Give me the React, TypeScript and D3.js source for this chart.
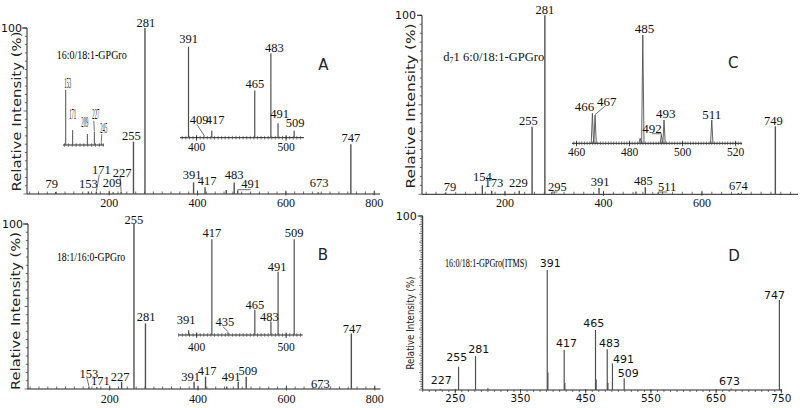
import React from "react";
import * as d3 from "d3";

const SERIF = "'Liberation Serif', 'Times New Roman', serif";
const SANS = "'DejaVu Sans', 'Liberation Sans', sans-serif";

// ---------------- data (m/z and relative intensity, %) ----------------
const aMz = [79, 153, 171, 209, 227, 255, 281, 391, 417, 465, 483, 491, 673, 747];
const aInt = [1.2, 1.5, 1.5, 1, 1.5, 31.5, 100, 7, 4, 2.4, 7, 2, 1, 30];
const a1Mz = [153, 171, 209, 227, 245];
const a1Int = [100, 27, 20, 24, 5];
const a2Mz = [391, 409, 417, 465, 483, 491, 509];
const a2Int = [100, 1, 7.7, 52, 92.7, 16, 7.7];

const bMz = [153, 171, 227, 255, 281, 391, 417, 465, 491, 509, 673, 747];
const bInt = [1.5, 1, 4.4, 100, 39.8, 4.4, 7.5, 1.5, 4.4, 7.5, 0.8, 33.7];
const b2Mz = [391, 417, 435, 465, 483, 491, 509];
const b2Int = [5, 100, 3, 26.5, 14, 66, 100];

const cMz = [79, 154, 173, 229, 255, 281, 295, 391, 466, 485, 511, 674, 749];
const cInt = [0.8, 5, 2, 2, 37.8, 100, 1, 3.5, 1.5, 4, 1, 0.8, 38];
const c2Mz = [466, 467, 484, 485, 492, 493, 511];
const c2Int = [27.7, 26, 4.6, 100, 7.7, 21.5, 21.5];

const dMz = [227, 255, 281, 300, 391, 392, 417, 418, 465, 466, 483, 484, 491, 509, 673, 747];
const dInt = [0.6, 13.4, 19.5, 1, 69, 10, 23, 4, 34.5, 6, 23.4, 4, 15.3, 6.7, 0.8, 51.7];

const abTicks = [200, 400, 600, 800];
const cTicks = [200, 400, 600];
const dTicks = [250, 350, 450, 550, 650, 750];
const insetABTicks = [400, 500];
const insetCTicks = [460, 480, 500, 520];
const yTopTick = [100];

const titleA = "16:0/18:1-GPGro";
const titleB = "18:1/16:0-GPGro";
const titleC = ["d", "7", "1 6:0/18:1-GPGro"];
const titleD = "16:0/18:1-GPGro(ITMS)";
const yLabel = "Relative Intensity (%)";

// ---------------- label layout (offsets from peak top, px) ----------------
type Lab = [number, number, number, string?];
const aLab: Lab[] = [[79, -4, -8], [153, 0, -7.5], [171, 5, -21.5, "line"], [209, -1, -9], [227, 1, -19, "line"],
  [255, -2, -6], [281, 1, -5], [391, -1.5, -7], [417, 2, -6], [483, 0, -7], [491, 13, -6.5, "elbow"], [673, 1, -9], [747, 0, -6]];
const a1Lab: Lab[] = [[153, 2, -7], [171, 0, -16], [209, -2.5, -12], [227, 1.5, -17, "line"], [245, 2.5, -14, "line"]];
const a2Lab: Lab[] = [[391, 0, -7.5], [409, -5.6, -16.8, "line"], [417, 3.3, -10.7], [465, 0, -6], [483, 3.5, -5], [491, 1.5, -9], [509, 1, -8]];
const bLab: Lab[] = [[153, 0, -13, "line"], [171, 3.6, -6], [227, -1.5, -5], [255, 0, -4], [281, 0.7, -6], [391, -3.5, -4.5],
  [417, 1.5, -5.5], [491, -7, -4.7], [509, 1.7, -5.6], [673, 1.7, -4], [747, 0.7, -4]];
const b2Lab: Lab[] = [[391, -2.4, -10], [417, 0, -6], [435, -3, -10, "line"], [465, 0, -5], [483, -1.5, -5], [491, -1, -5], [509, 0, -6]];
const cLab: Lab[] = [[79, 4.6, -6], [154, 0, -8.6], [173, 2.3, -7.7], [229, -1, -7.7], [255, -3.8, -5.6], [281, 0, -5.3],
  [295, 5.7, -6, "elbow"], [391, 1, -6], [485, -2, -6], [511, 9, -6, "elbow"], [674, 0, -6.5], [749, -2, -5]];
const c2Lab: Lab[] = [[466, -8, -6.6], [467, 11.6, -13.3, "line"], [485, 1.7, -6.7], [492, -9.3, -6.7, "elbow"], [493, 1.7, -6.7], [511, 0, -6]];
const dLab: Lab[] = [[227, 1, -8], [255, -1.7, -9], [281, 3.3, -7], [391, 3, -6.7], [417, 2.3, -6], [465, -1.7, -6.7],
  [483, 2.3, -5.3], [491, 11, -4], [509, 4, -5], [673, -1.6, -7], [747, -5, -5]];

// ---------------- scales ----------------
const xA = d3.scaleLinear().domain([14, 813]).range([27, 380]);
const yA = d3.scaleLinear().domain([0, 100]).range([194, 28]);
const xA1 = d3.scaleLinear().domain([146, 252]).range([63, 104]);
const yA1 = d3.scaleLinear().domain([0, 100]).range([145, 90]);
const xA2 = d3.scaleLinear().domain([381.5, 520]).range([180, 304]);
const yA2 = d3.scaleLinear().domain([0, 100]).range([137.7, 46.7]);

const xB = d3.scaleLinear().domain([14, 813]).range([27.5, 380.5]);
const yB = d3.scaleLinear().domain([0, 100]).range([389, 224]);
const xB2 = d3.scaleLinear().domain([379.5, 518.5]).range([178.3, 302.7]);
const yB2 = d3.scaleLinear().domain([0, 100]).range([335, 239.3]);

const xC = d3.scaleLinear().domain([31.5, 795]).range([422, 798]);
const yC = d3.scaleLinear().domain([0, 100]).range([194.3, 15.3]);
const xC2 = d3.scaleLinear().domain([458.3, 522.4]).range([572, 742]);
const yC2 = d3.scaleLinear().domain([0, 100]).range([143.3, 35]);

const xD = d3.scaleLinear().domain([200, 751]).range([422.7, 782]);
const yD = d3.scaleLinear().domain([0, 100]).range([390, 216]);

const PEAK = "#505050";

function Peaks({ x, y, mz, inten, color = PEAK, w = 1.2, tri = 0 }: any) {
  if (tri > 0) {
    const line = d3.line<[number, number]>().x((d) => x(d[0])).y((d) => y(d[1]));
    return (
      <g>
        {mz.map((m: number, i: number) => (
          <path key={i} d={line([[m - tri, 0], [m, inten[i]], [m + tri, 0]]) || ""} fill="none" stroke={color} strokeWidth={0.9} />
        ))}
      </g>
    );
  }
  return (
    <g>
      {mz.map((m: number, i: number) => (
        <line key={i} x1={x(m)} x2={x(m)} y1={y(0)} y2={y(inten[i])} stroke={color} strokeWidth={w} />
      ))}
    </g>
  );
}

function Labels({ x, y, mz, inten, lab, font, size, cond, half = 4.5, color = "#111" }: any) {
  return (
    <g>
      {lab.map(([m, dx, dy, lead]: Lab, i: number) => {
        const k = mz.indexOf(m);
        const px = x(m);
        const top = y(inten[k]);
        const lx = px + dx;
        const ly = top + dy;
        let le: any = null;
        if (lead === "line")
          le = <line x1={lx - 2} y1={ly + half} x2={px} y2={top - 0.5} stroke="#333" strokeWidth={0.7} />;
        if (lead === "elbow")
          le = (
            <polyline points={`${px},${top} ${px},${ly + half + 1} ${lx},${ly + half + 1}`} fill="none" stroke="#333" strokeWidth={0.7} />
          );
        return (
          <g key={i}>
            {le}
            <text x={lx} y={ly} textAnchor="middle" dominantBaseline="central" fontFamily={font} fontSize={size} fill={color}
              {...(cond ? { textLength: cond, lengthAdjust: "spacingAndGlyphs" } : {})}>
              {m}
            </text>
          </g>
        );
      })}
    </g>
  );
}

function XAxis({ x, y0, ticks, minor, labelY, font, size, up = 2.5, down = 0 }: any) {
  const [d0, d1] = x.domain();
  const [r0, r1] = x.range();
  return (
    <g>
      <line x1={r0} x2={r1} y1={y0} y2={y0} stroke="#222" strokeWidth={1} />
      {minor.filter((t: number) => t >= d0 && t <= d1).map((t: number, i: number) => (
        <line key={"m" + i} x1={x(t)} x2={x(t)} y1={y0 + down} y2={y0 - up} stroke="#333" strokeWidth={0.7} />
      ))}
      {ticks.map((t: number, i: number) => (
        <g key={"t" + i}>
          <line x1={x(t)} x2={x(t)} y1={y0 + down + 1.5} y2={y0 - up - 1} stroke="#333" strokeWidth={0.8} />
          <text x={x(t)} y={labelY} textAnchor="middle" dominantBaseline="central" fontFamily={font} fontSize={size} fill="#111">
            {t}
          </text>
        </g>
      ))}
    </g>
  );
}

function YAxis({ x0, y, step, big, tl, font, size }: any) {
  const [r0, r1] = y.range();
  return (
    <g>
      <line x1={x0} x2={x0} y1={r0} y2={r1} stroke="#222" strokeWidth={1} />
      {d3.range(0, 100.01, step).map((v: number, i: number) => (
        <line key={i} x1={x0} x2={x0 - (v % big === 0 ? 3.5 : 2.2)} y1={y(v)} y2={y(v)} stroke="#333" strokeWidth={0.7} />
      ))}
      {yTopTick.map((v) => (
        <g key={v}>
          <line x1={x0} x2={x0 - 5} y1={y(v)} y2={y(v)} stroke="#222" strokeWidth={1} />
          <text x={x0 - tl} y={y(v)} textAnchor="end" dominantBaseline="central" fontFamily={font} fontSize={size} fill="#111">
            {v}
          </text>
        </g>
      ))}
    </g>
  );
}

function YTitle({ cx, cy, len, size }: any) {
  return (
    <text transform={`translate(${cx},${cy}) rotate(-90)`} textAnchor="middle" dominantBaseline="central" fontFamily={SANS}
      fontSize={size} fill="#222" textLength={len} lengthAdjust="spacingAndGlyphs">
      {yLabel}
    </text>
  );
}

function Inset({ x, y, ticks, minorStep, labelY, size }: any) {
  const [d0, d1] = x.domain();
  const y0 = y(0);
  const minor = d3.range(Math.ceil(d0 / minorStep) * minorStep, d1, minorStep);
  return (
    <g>
      <line x1={x.range()[0]} x2={x.range()[1]} y1={y0} y2={y0} stroke="#222" strokeWidth={1} />
      {minor.map((t: number, i: number) => (
        <line key={i} x1={x(t)} x2={x(t)} y1={y0 - 1.8} y2={y0 + 1.8} stroke="#333" strokeWidth={0.6} />
      ))}
      {(ticks || []).map((t: number, i: number) => (
        <g key={"t" + i}>
          <line x1={x(t)} x2={x(t)} y1={y0 - 2.5} y2={y0 + 3} stroke="#222" strokeWidth={0.8} />
          <text x={x(t)} y={labelY} textAnchor="middle" dominantBaseline="central" fontFamily={SERIF} fontSize={size} fill="#111">
            {t}
          </text>
        </g>
      ))}
    </g>
  );
}

export default function App() {
  const abMinor = d3.range(20, 820, 20);
  const cMinor = d3.range(40, 800, 20);
  const dMinor = d3.range(200, 760, 10);
  return (
    <svg width={800} height={408} viewBox="0 0 800 408" style={{ position: "absolute", left: 0, top: 0, background: "#fff" }}>
      <rect x={0} y={0} width={800} height={408} fill="#fff" />

      {/* ---------- Panel A ---------- */}
      <YTitle cx={16.7} cy={111.5} len={160} size={13} />
      <YAxis x0={27} y={yA} step={5} big={50} tl={5} font={SANS} size={11} />
      <XAxis x={xA} y0={194} ticks={abTicks} minor={abMinor} labelY={202.8} font={SERIF} size={12} />
      <Peaks x={xA} y={yA} mz={aMz} inten={aInt} w={1.4} />
      <Labels x={xA} y={yA} mz={aMz} inten={aInt} lab={aLab} font={SERIF} size={12.5} />
      <text x={91.7} y={55} textAnchor="middle" dominantBaseline="central" fontFamily={SERIF} fontSize={12.5} textLength={70} lengthAdjust="spacingAndGlyphs">{titleA}</text>
      <text x={323.3} y={65} textAnchor="middle" dominantBaseline="central" fontFamily={SANS} fontSize={15} fill="#222">A</text>
      <Inset x={xA1} y={yA1} ticks={[]} minorStep={10} labelY={0} size={10} />
      <Peaks x={xA1} y={yA1} mz={a1Mz} inten={a1Int} w={1} />
      <Labels x={xA1} y={yA1} mz={a1Mz} inten={a1Int} lab={a1Lab} font={SERIF} size={14} cond={7} half={6} />
      <Inset x={xA2} y={yA2} ticks={insetABTicks} minorStep={4} labelY={146.7} size={11.5} />
      <Peaks x={xA2} y={yA2} mz={a2Mz} inten={a2Int} w={1.2} />
      <Labels x={xA2} y={yA2} mz={a2Mz} inten={a2Int} lab={a2Lab} font={SERIF} size={12.5} />

      {/* ---------- Panel B ---------- */}
      <YTitle cx={15} cy={311} len={158} size={13} />
      <YAxis x0={28} y={yB} step={5} big={50} tl={5} font={SANS} size={11} />
      <XAxis x={xB} y0={389} ticks={abTicks} minor={abMinor} labelY={398.8} font={SERIF} size={12} />
      <Peaks x={xB} y={yB} mz={bMz} inten={bInt} w={1.4} />
      <Labels x={xB} y={yB} mz={bMz} inten={bInt} lab={bLab} font={SERIF} size={12.5} />
      <text x={91} y={256.7} textAnchor="middle" dominantBaseline="central" fontFamily={SERIF} fontSize={12.5} textLength={68} lengthAdjust="spacingAndGlyphs">{titleB}</text>
      <text x={323} y={255} textAnchor="middle" dominantBaseline="central" fontFamily={SANS} fontSize={15} fill="#222">B</text>
      <Inset x={xB2} y={yB2} ticks={insetABTicks} minorStep={4} labelY={346.7} size={11.5} />
      <Peaks x={xB2} y={yB2} mz={b2Mz} inten={b2Int} w={1.2} />
      <Labels x={xB2} y={yB2} mz={b2Mz} inten={b2Int} lab={b2Lab} font={SERIF} size={12.5} />

      {/* ---------- Panel C ---------- */}
      <YTitle cx={410} cy={106} len={165} size={13} />
      <YAxis x0={422} y={yC} step={5} big={50} tl={6} font={SANS} size={11} />
      <XAxis x={xC} y0={194.3} ticks={cTicks} minor={cMinor} labelY={202.7} font={SERIF} size={12} />
      <Peaks x={xC} y={yC} mz={cMz} inten={cInt} w={1.4} />
      <Labels x={xC} y={yC} mz={cMz} inten={cInt} lab={cLab} font={SERIF} size={12.5} />
      <text x={443.3} y={56.7} dominantBaseline="central" fontFamily={SERIF} fontSize={12.5} fill="#111">
        <tspan>{titleC[0]}</tspan>
        <tspan fontSize={8} dy={3}>{titleC[1]}</tspan>
        <tspan dy={-3}>{titleC[2]}</tspan>
      </text>
      <text x={733.3} y={63} textAnchor="middle" dominantBaseline="central" fontFamily={SANS} fontSize={15} fill="#222">C</text>
      <Inset x={xC2} y={yC2} ticks={insetCTicks} minorStep={1} labelY={151.5} size={11.5} />
      <Peaks x={xC2} y={yC2} mz={c2Mz} inten={c2Int} tri={0.45} />
      <Labels x={xC2} y={yC2} mz={c2Mz} inten={c2Int} lab={c2Lab} font={SERIF} size={13} />

      {/* ---------- Panel D ---------- */}
      <YTitle cx={410} cy={323} len={93} size={10} />
      <YAxis x0={422.7} y={yD} step={1} big={5} tl={6} font={SANS} size={11} />
      <XAxis x={xD} y0={390} ticks={dTicks} minor={dMinor} labelY={397.5} font={SANS} size={10.5} up={0} down={2} />
      <Peaks x={xD} y={yD} mz={dMz} inten={dInt} w={1.2} />
      <Labels x={xD} y={yD} mz={dMz} inten={dInt} lab={dLab} font={SANS} size={11} />
      <text x={486} y={263.3} textAnchor="middle" dominantBaseline="central" fontFamily={SERIF} fontSize={12} textLength={82} lengthAdjust="spacingAndGlyphs">{titleD}</text>
      <text x={734} y={256} textAnchor="middle" dominantBaseline="central" fontFamily={SANS} fontSize={15} fill="#222">D</text>
    </svg>
  );
}
